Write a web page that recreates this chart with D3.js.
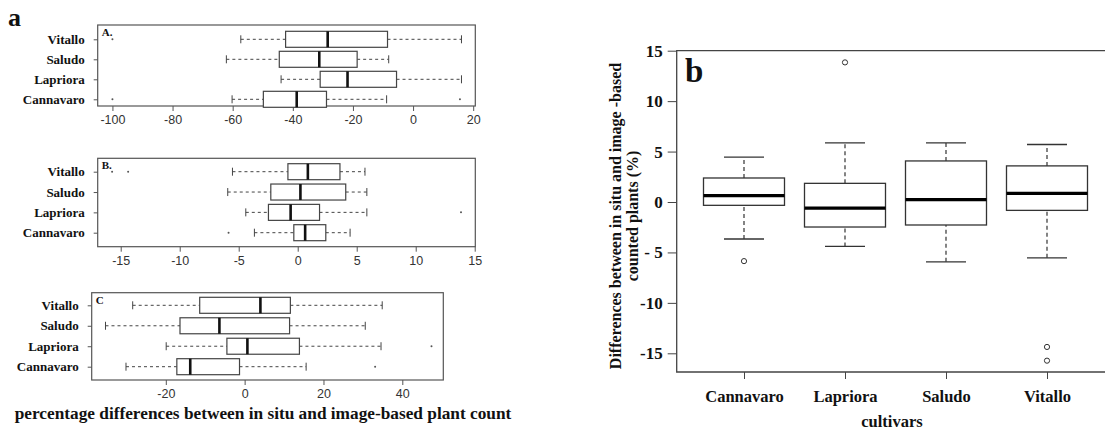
<!DOCTYPE html>
<html><head><meta charset="utf-8">
<script src="https://cdn.jsdelivr.net/npm/d3@7"></script>
<style>
html,body{margin:0;padding:0;background:#fff;}
svg{display:block;}
</style></head>
<body><svg id="c" width="1105" height="430"></svg>
<script>
// ---------- DATA ----------
const cultivars = ["Cannavaro", "Lapriora", "Saludo", "Vitallo"];
// stats: [lower whisker, Q1, median, Q3, upper whisker]
const statsA = [[-60.2,-49.8,-38.7,-28.8,-8.8],[-43.9,-30.9,-21.8,-5.5,16.1],[-62.1,-44.5,-31.2,-18.6,-8.1],[-57.3,-42.4,-28.4,-8.5,16.1]];
const outliersA = [[-100, 15.6], [], [], [-100]];
const statsB = [[-3.67,-0.33,0.63,2.38,4.44],[-4.4,-2.48,-0.6,1.85,5.86],[-5.93,-2.28,0.23,4.07,5.86],[-5.53,-0.83,0.86,3.58,5.7]];
const outliersB = [[-5.86], [13.84], [], [-14.37, -15.73]];
const statsC = [[-30.1,-17.2,-13.8,-1.3,15.6],[-19.9,-4.5,0.7,13.9,34.6],[-35.3,-16.4,-6.4,11.4,30.6],[-28.4,-11.4,4.0,11.6,34.9]];
const outliersC = [[33.1], [47.4], [], []];
const ticksA = [-100, -80, -60, -40, -20, 0, 20];
const ticksB = [-15, -10, -5, 0, 5, 10, 15];
const ticksC = [-20, 0, 20, 40];
const ticksb = [-15, -10, -5, 0, 5, 10, 15];
const panelLabelsA = ["A.", "B.", "C"];
const xTitleA = "percentage differences between in situ and image-based plant count";
const yTitleB = ["Differences between in situ and image -based", "counted plants (%)"];
const xTitleB = "cultivars";

const svg = d3.select("#c");
const SERIF = "'Liberation Serif','Times New Roman',serif";
const SANS = "'Liberation Sans',Arial,sans-serif";

// ---------- Panel a: horizontal boxplots ----------
function hPanel(cfg) {
  const g = svg.append("g");
  const x = d3.scaleLinear().domain(cfg.domain).range([cfg.left, cfg.right]);
  const y = d3.scalePoint().domain(cultivars).range([cfg.rowBottom, cfg.rowTop]);
  g.append("rect").attr("x", cfg.left).attr("y", cfg.top)
    .attr("width", cfg.right - cfg.left).attr("height", cfg.bottom - cfg.top)
    .attr("fill", "none").attr("stroke", "#555").attr("stroke-width", 1.2);
  const xa = g.append("g").attr("transform", `translate(0,${cfg.bottom})`)
    .call(d3.axisBottom(x).tickValues(cfg.ticks).tickSize(5).tickPadding(4).tickFormat(d3.format("d")));
  xa.select(".domain").remove();
  xa.selectAll("line").attr("stroke", "#555");
  xa.selectAll("text").style("font-family", SANS).style("font-size", "12.5px").attr("fill", "#333")
    .text(d => d < 0 ? "-" + Math.abs(d) : d);
  const ya = g.append("g").attr("transform", `translate(${cfg.left},0)`)
    .call(d3.axisLeft(y).tickSize(4).tickPadding(9));
  ya.select(".domain").remove();
  ya.selectAll("line").attr("stroke", "#555");
  ya.selectAll("text").style("font-family", SERIF).style("font-weight", "bold")
    .style("font-size", "13px").attr("fill", "#111");
  const bh = 16;
  cultivars.forEach((c, i) => {
    const s = cfg.stats[i], cy = y(c);
    const bg = g.append("g");
    bg.append("line").attr("x1", x(s[0])).attr("x2", x(s[1])).attr("y1", cy).attr("y2", cy)
      .attr("stroke", "#444").attr("stroke-dasharray", "3,3").attr("stroke-width", 1);
    bg.append("line").attr("x1", x(s[3])).attr("x2", x(s[4])).attr("y1", cy).attr("y2", cy)
      .attr("stroke", "#444").attr("stroke-dasharray", "3,3").attr("stroke-width", 1);
    [s[0], s[4]].forEach(v => bg.append("line").attr("x1", x(v)).attr("x2", x(v))
      .attr("y1", cy - 4).attr("y2", cy + 4).attr("stroke", "#444").attr("stroke-width", 1));
    bg.append("rect").attr("x", x(s[1])).attr("y", cy - bh / 2)
      .attr("width", x(s[3]) - x(s[1])).attr("height", bh)
      .attr("fill", "#fff").attr("stroke", "#444").attr("stroke-width", 1.2);
    bg.append("line").attr("x1", x(s[2])).attr("x2", x(s[2])).attr("y1", cy - bh / 2).attr("y2", cy + bh / 2)
      .attr("stroke", "#111").attr("stroke-width", 2.6);
    cfg.outliers[i].forEach(v => bg.append("circle").attr("cx", x(v)).attr("cy", cy).attr("r", 1)
      .attr("fill", "#555"));
  });
  g.append("text").attr("x", cfg.left + cfg.labelDx).attr("y", cfg.top + 11)
    .style("font-family", SERIF).style("font-weight", "bold").style("font-size", "11px")
    .attr("fill", "#111").text(cfg.label);
}

hPanel({left: 97.7, right: 475.3, top: 25, bottom: 106, domain: [-104.9, 20.7],
  rowTop: 39.3, rowBottom: 99.3, ticks: ticksA, stats: statsA, outliers: outliersA,
  label: panelLabelsA[0], labelDx: 4});
hPanel({left: 97.7, right: 475.3, top: 158.3, bottom: 246.7, domain: [-16.95, 15.05],
  rowTop: 171.7, rowBottom: 232.7, ticks: ticksB, stats: statsB, outliers: outliersB,
  label: panelLabelsA[1], labelDx: 4});
hPanel({left: 91.7, right: 443.3, top: 292.7, bottom: 380, domain: [-38.8, 50.4],
  rowTop: 305.3, rowBottom: 366.7, ticks: ticksC, stats: statsC, outliers: outliersC,
  label: panelLabelsA[2], labelDx: 4});

svg.append("text").attr("x", 8).attr("y", 26).style("font-family", SERIF)
  .style("font-weight", "bold").style("font-size", "26px").attr("fill", "#111").text("a");
svg.append("text").attr("x", 263).attr("y", 419).attr("text-anchor", "middle")
  .style("font-family", SERIF).style("font-weight", "bold").style("font-size", "17.3px")
  .attr("fill", "#111").text(xTitleA);

// ---------- Panel b: vertical boxplots ----------
(function () {
  const L = 676.7, T = 50.7, B = 372, R = 1110;
  const g = svg.append("g");
  const x = d3.scalePoint().domain(cultivars).range([744, 1047]);
  const y = d3.scaleLinear().domain([-15, 15]).range([353.3, 50.7]);
  g.append("path").attr("d", `M${R},${T}H${L}V${B}H${R}`)
    .attr("fill", "none").attr("stroke", "#444").attr("stroke-width", 1.3);
  const ya = g.append("g").attr("transform", `translate(${L},0)`)
    .call(d3.axisLeft(y).tickValues(ticksb).tickSize(9).tickPadding(5));
  ya.select(".domain").remove();
  ya.selectAll("line").attr("stroke", "#444");
  ya.selectAll("text").style("font-family", SERIF).style("font-weight", "bold")
    .style("font-size", "17px").style("white-space", "pre").attr("fill", "#111")
    .text(d => d === -5 ? "- 5" : (d < 0 ? "-" + Math.abs(d) : d));
  const xa = g.append("g").attr("transform", `translate(0,${B})`)
    .call(d3.axisBottom(x).tickSize(7).tickPadding(11));
  xa.select(".domain").remove();
  xa.selectAll("line").attr("stroke", "#444");
  xa.selectAll("text").style("font-family", SERIF).style("font-weight", "bold")
    .style("font-size", "16.5px").attr("fill", "#111");
  const bw = 81, cap = 40;
  cultivars.forEach((c, i) => {
    const s = statsB[i], cx = x(c);
    g.append("line").attr("x1", cx).attr("x2", cx).attr("y1", y(s[0])).attr("y2", y(s[1]))
      .attr("stroke", "#333").attr("stroke-dasharray", "4,3").attr("stroke-width", 1.2);
    g.append("line").attr("x1", cx).attr("x2", cx).attr("y1", y(s[3])).attr("y2", y(s[4]))
      .attr("stroke", "#333").attr("stroke-dasharray", "4,3").attr("stroke-width", 1.2);
    [s[0], s[4]].forEach(v => g.append("line").attr("x1", cx - cap / 2).attr("x2", cx + cap / 2)
      .attr("y1", y(v)).attr("y2", y(v)).attr("stroke", "#333").attr("stroke-width", 1.3));
    g.append("rect").attr("x", cx - bw / 2).attr("y", y(s[3])).attr("width", bw)
      .attr("height", y(s[1]) - y(s[3])).attr("fill", "#fff").attr("stroke", "#333").attr("stroke-width", 1.3);
    g.append("line").attr("x1", cx - bw / 2).attr("x2", cx + bw / 2).attr("y1", y(s[2])).attr("y2", y(s[2]))
      .attr("stroke", "#000").attr("stroke-width", 3.2);
    outliersB[i].forEach(v => g.append("circle").attr("cx", cx).attr("cy", y(v)).attr("r", 2.6)
      .attr("fill", "none").attr("stroke", "#333").attr("stroke-width", 1));
  });
  g.append("text").attr("x", 685).attr("y", 82).style("font-family", SERIF)
    .style("font-weight", "bold").style("font-size", "33px").attr("fill", "#111").text("b");
  const yt = g.append("text").attr("transform", "translate(621,216) rotate(-90)")
    .attr("text-anchor", "middle").style("font-family", SERIF).style("font-weight", "bold")
    .style("font-size", "16px").attr("fill", "#111");
  yt.append("tspan").attr("x", 0).attr("y", 0).text(yTitleB[0]);
  yt.append("tspan").attr("x", 0).attr("y", 17).text(yTitleB[1]);
  g.append("text").attr("x", 892).attr("y", 427).attr("text-anchor", "middle")
    .style("font-family", SERIF).style("font-weight", "bold").style("font-size", "16.5px")
    .attr("fill", "#111").text(xTitleB);
})();
</script></body></html>
